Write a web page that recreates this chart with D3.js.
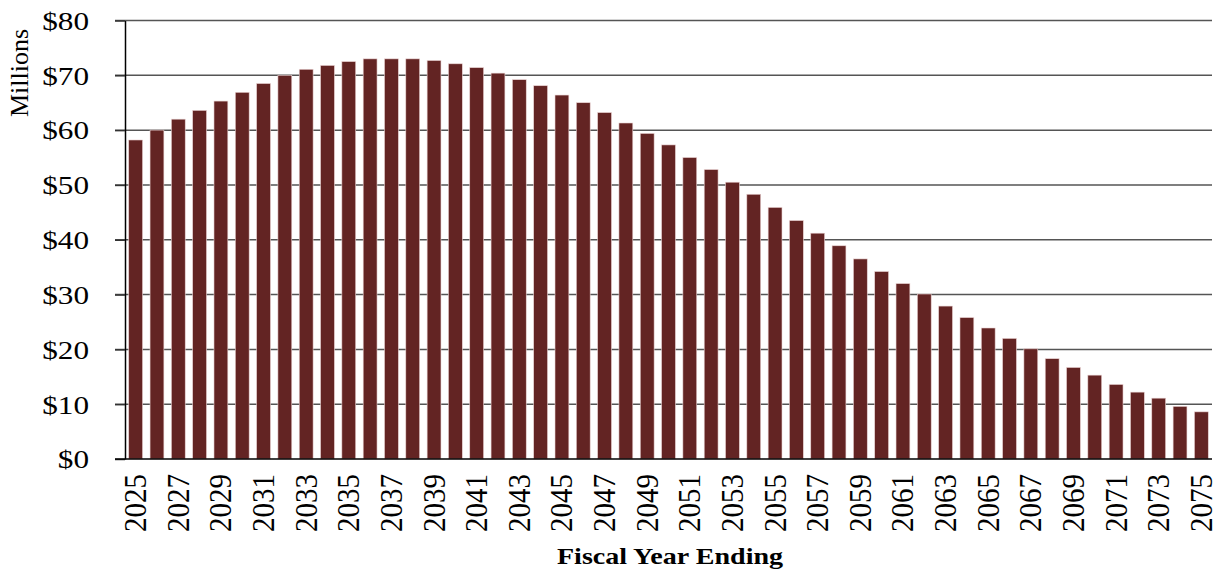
<!DOCTYPE html>
<html>
<head>
<meta charset="utf-8">
<script src="https://cdn.jsdelivr.net/npm/d3@7"></script>
<style>
  html, body { margin: 0; padding: 0; background: #fff; }
  svg { display: block; }
  text { font-family: "Liberation Serif", "Times New Roman", serif; fill: #000; }
</style>
</head>
<body>
<svg id="chart" width="1225" height="575"></svg>
<script>
const years = d3.range(2025, 2076).map(String);
const values = [
  58.2, 60.0, 62.0, 63.6, 65.3, 66.9, 68.5, 70.0, 71.1, 71.8,
  72.5, 73.0, 73.0, 73.0, 72.7, 72.1, 71.4, 70.4, 69.2, 68.1,
  66.4, 65.0, 63.2, 61.3, 59.4, 57.3, 55.0, 52.8, 50.5, 48.3,
  45.9, 43.5, 41.2, 38.9, 36.5, 34.2, 32.0, 30.1, 27.9, 25.8,
  23.9, 22.0, 20.1, 18.3, 16.7, 15.3, 13.6, 12.2, 11.1, 9.6, 8.6
];
const yTicks = [0, 10, 20, 30, 40, 50, 60, 70, 80];
const xTickLabels = years.filter((d, i) => i % 2 === 0);
const yAxisTitle = "Millions";
const xAxisTitle = "Fiscal Year Ending";

const svg = d3.select("#chart");
const mLeft = 125, mRight = 1212, mTop = 20.5, mBottom = 459;

const x = d3.scaleBand().domain(years).range([mLeft, mRight])
  .paddingInner(0.35).paddingOuter(0.175);
const y = d3.scaleLinear().domain([0, 80]).range([mBottom, mTop]);

// gridlines
svg.append("g").selectAll("line").data(yTicks.filter(d => d > 0)).join("line")
  .attr("x1", mLeft - 10).attr("x2", mRight)
  .attr("y1", d => y(d)).attr("y2", d => y(d))
  .attr("stroke", "#555").attr("stroke-width", 1.5);

// bars
svg.append("g").selectAll("rect").data(values).join("rect")
  .attr("x", (d, i) => x(years[i]))
  .attr("width", x.bandwidth())
  .attr("y", d => y(d))
  .attr("height", d => y(0) - y(d))
  .attr("fill", "#632423")
  .attr("stroke", "#ead3d3").attr("stroke-width", 0.6);

// y axis
const yAxis = svg.append("g").attr("transform", `translate(${mLeft},0)`)
  .call(d3.axisLeft(y).tickValues(yTicks).tickSize(10).tickSizeOuter(0)
    .tickFormat(d => "$" + d));
yAxis.select(".domain").attr("stroke", "#000").attr("stroke-width", 1.5);
yAxis.selectAll(".tick line").attr("stroke", "#333").attr("stroke-width", 1.5);
yAxis.selectAll(".tick text")
  .attr("font-size", 26)
  .attr("font-family", "Liberation Serif")
  .attr("x", -36 / 1.2)
  .attr("dy", "0.34em")
  .attr("transform", "scale(1.2,1)");

// x axis
const xAxis = svg.append("g").attr("transform", `translate(0,${mBottom})`)
  .call(d3.axisBottom(x).tickValues(xTickLabels).tickSize(0).tickSizeOuter(0));
xAxis.select(".domain").attr("stroke", "#000").attr("stroke-width", 1.5)
  .attr("d", `M${mLeft - 10},0H${mRight}`);
xAxis.selectAll(".tick text")
  .attr("font-size", 29)
  .attr("font-family", "Liberation Serif")
  .attr("text-anchor", "end")
  .attr("x", -15)
  .attr("y", 0)
  .attr("dy", "0.33em")
  .attr("transform", "rotate(-90) scale(1,1.1)");

// y axis title
svg.append("text")
  .attr("transform", "translate(28,73) rotate(-90)")
  .attr("text-anchor", "middle")
  .attr("font-size", 26)
  .text(yAxisTitle);

// x axis title
svg.append("text")
  .attr("transform", "translate(670,564) scale(1.17,1)")
  .attr("text-anchor", "middle")
  .attr("font-size", 24)
  .attr("font-weight", "bold")
  .text(xAxisTitle);
</script>
</body>
</html>
